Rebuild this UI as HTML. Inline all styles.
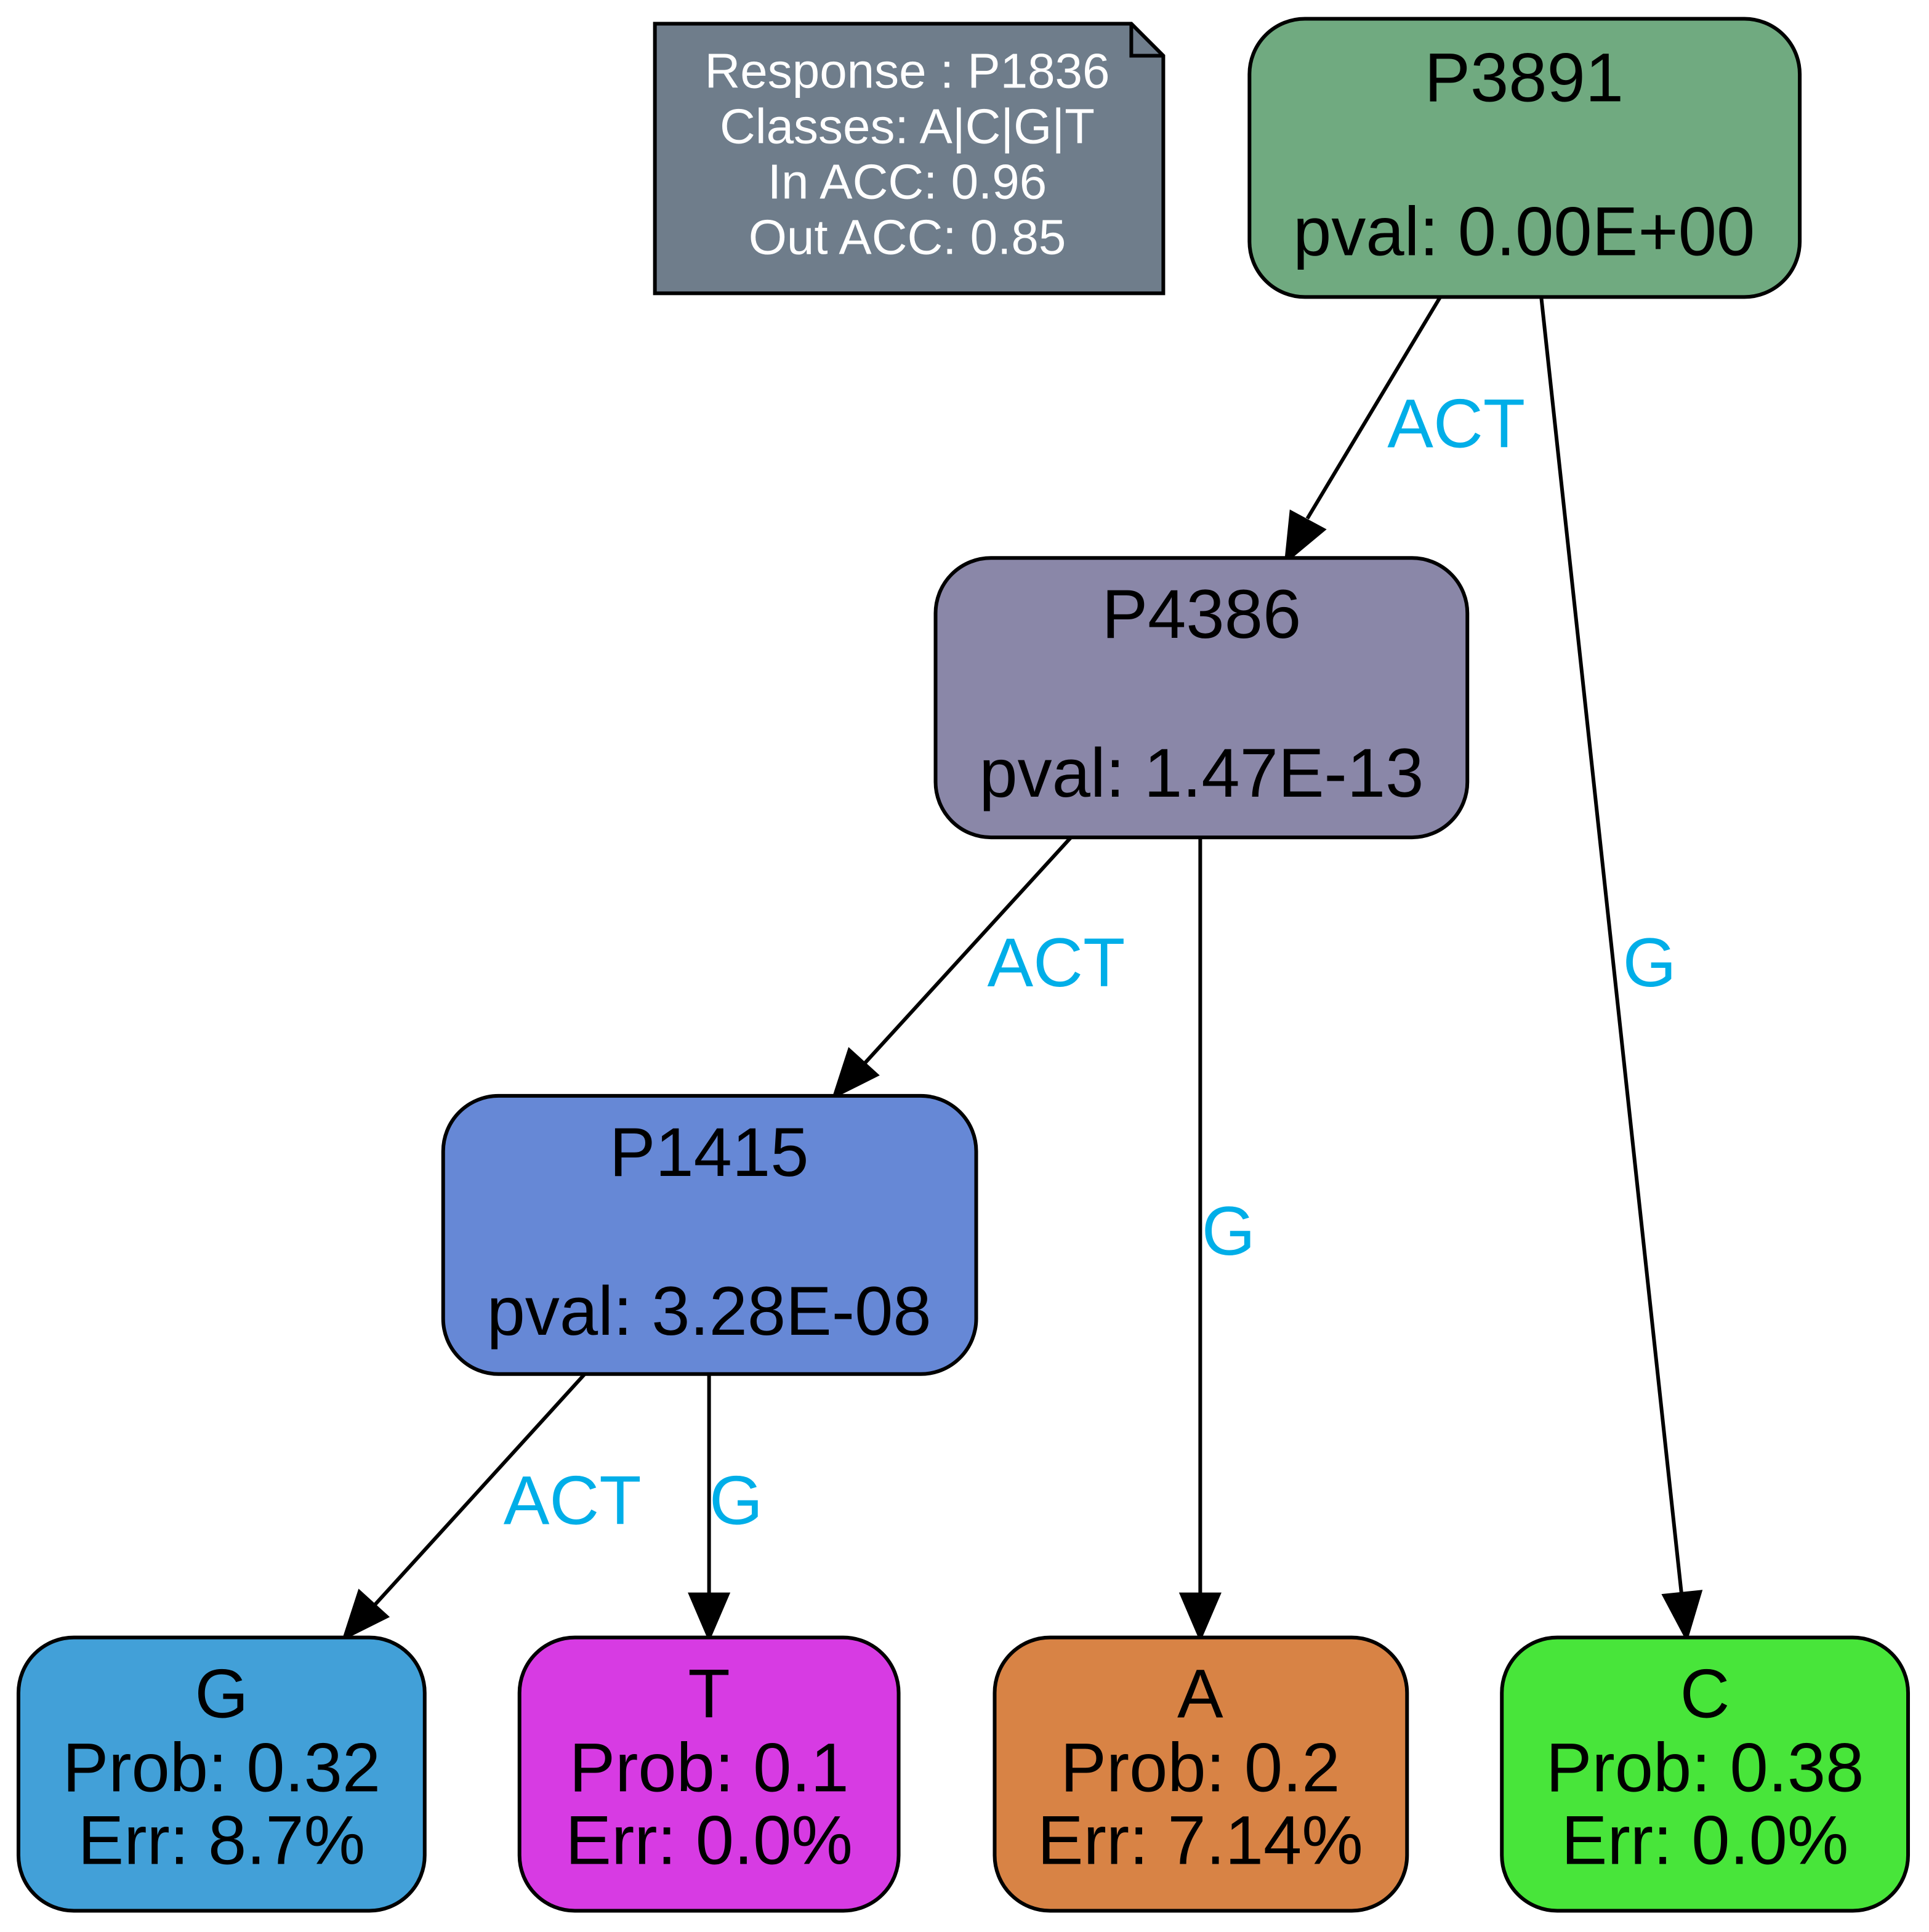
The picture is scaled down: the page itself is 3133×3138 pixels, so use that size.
<!DOCTYPE html>
<html><head><meta charset="utf-8"><style>html,body{margin:0;padding:0;background:#fff}svg{display:block}</style></head>
<body>
<svg width="3133" height="3138" viewBox="0 0 1567 1569" xmlns="http://www.w3.org/2000/svg" font-family="Liberation Sans, Arial, sans-serif">
<rect width="1567" height="1569" fill="#fff"/>
<!-- note -->
<path d="M532,19 H919 L945,45 V238 H532 Z" fill="#6f7d8b" stroke="#000" stroke-width="3"/>
<path d="M919,19 V45 H945" fill="none" stroke="#000" stroke-width="3"/>
<g fill="#fff" font-size="40" text-anchor="middle">
<text x="737" y="71">Response : P1836</text>
<text x="737" y="116">Classes: A|C|G|T</text>
<text x="737" y="161">In ACC: 0.96</text>
<text x="737" y="206">Out ACC: 0.85</text>
</g>
<!-- edges -->
<g stroke="#000" stroke-width="3" fill="none">
<line x1="1170" y1="241" x2="1062" y2="421"/>
<line x1="1252" y1="241" x2="1366" y2="1295"/>
<line x1="870" y1="680" x2="702" y2="864"/>
<line x1="975" y1="680" x2="975" y2="1295"/>
<line x1="475" y1="1116" x2="304" y2="1304"/>
<line x1="576" y1="1116" x2="576" y2="1295"/>
</g>
<g fill="#000" stroke="#000" stroke-width="3">
<polygon points="1045,455 1049,416 1075,430"/>
<polygon points="1370,1330 1352,1296 1381,1293"/>
<polygon points="678,890 690,853 712,873"/>
<polygon points="975,1330 960,1295 990,1295"/>
<polygon points="280,1330 292,1293 314,1313"/>
<polygon points="576,1330 561,1295 591,1295"/>
</g>
<g fill="#00aee8" font-size="56" text-anchor="middle">
<text x="1183" y="363">ACT</text>
<text x="1340" y="801">G</text>
<text x="858" y="801">ACT</text>
<text x="998" y="1019">G</text>
<text x="465" y="1238">ACT</text>
<text x="598" y="1238">G</text>
</g>
<!-- nodes -->
<g stroke="#000" stroke-width="3">
<rect x="1015" y="15" width="447" height="226" rx="45" fill="#70aa80"/>
<rect x="760" y="453" width="432" height="227" rx="45" fill="#8a87a8"/>
<rect x="360" y="890" width="433" height="226" rx="45" fill="#6688d6"/>
<rect x="15" y="1330" width="330" height="222" rx="45" fill="#42a0d8"/>
<rect x="422" y="1330" width="308" height="222" rx="45" fill="#d73be3"/>
<rect x="808" y="1330" width="335" height="222" rx="45" fill="#d88345"/>
<rect x="1220" y="1330" width="330" height="222" rx="45" fill="#48e53a"/>
</g>
<g fill="#000" font-size="56" text-anchor="middle">
<text x="1238" y="82">P3891</text>
<text x="1238" y="207">pval: 0.00E+00</text>
<text x="976" y="518">P4386</text>
<text x="976" y="647">pval: 1.47E-13</text>
<text x="576" y="955">P1415</text>
<text x="576" y="1084">pval: 3.28E-08</text>
<text x="180" y="1395">G</text>
<text x="180" y="1455">Prob: 0.32</text>
<text x="180" y="1514">Err: 8.7%</text>
<text x="576" y="1395">T</text>
<text x="576" y="1455">Prob: 0.1</text>
<text x="576" y="1514">Err: 0.0%</text>
<text x="975" y="1395">A</text>
<text x="975" y="1455">Prob: 0.2</text>
<text x="975" y="1514">Err: 7.14%</text>
<text x="1385" y="1395">C</text>
<text x="1385" y="1455">Prob: 0.38</text>
<text x="1385" y="1514">Err: 0.0%</text>
</g>
</svg>
</body></html>
